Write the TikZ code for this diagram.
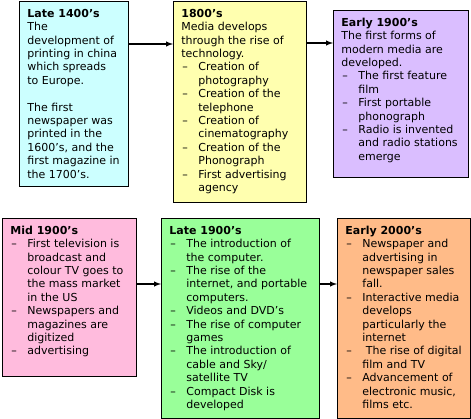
\documentclass[tikz,border=0pt]{standalone}
\usepackage{fontspec}
\setmainfont{DejaVu Sans}
\usepackage{tikz}
\usetikzlibrary{arrows, positioning, calc}
\definecolor{eracyan}{RGB}{204, 255, 255}
\definecolor{erayellow}{RGB}{255, 255, 175}
\definecolor{eraviolet}{RGB}{218, 190, 255}
\definecolor{erapink}{RGB}{255, 187, 221}
\definecolor{eragreen}{RGB}{153, 255, 153}
\definecolor{eraorange}{RGB}{255, 187, 136}

% text block of one box: height, width, content
\newcommand{\eratext}[3]{\begin{minipage}[t][#1][t]{#2}\fontsize{11}{13.4}\selectfont\raggedright\let\\\newline\leftskip=4pt #3\end{minipage}}
\newcommand{\eratitle}[1]{\textbf{\rule{0pt}{16pt}#1}\par}
\newcommand{\dashitem}{\par\hangindent=17pt\hangafter=1\makebox[17pt][l]{\hspace{1pt}–}}

\begin{document}
\begin{tikzpicture}[x=1pt, y=-1pt,
    erabox/.style={draw, line width=0.8pt, anchor=north west, inner xsep=4pt, inner ysep=0pt},
    arr/.style={-latex, line width=1.4pt}]
    \useasboundingbox (0,0) rectangle (471,419);

    % top row
    \node[erabox, fill=eracyan] (late1400) at (19,1) {\eratext{185pt}{101pt}{%
        \eratitle{Late 1400’s}
        The\\
        development of\\
        printing in china\\
        which spreads\\
        to Europe.\par\vspace{13.4pt}
        The first\\
        newspaper was\\
        printed in the\\
        1600’s, and the\\
        first magazine in\\
        the 1700’s.}};
    \node[erabox, fill=erayellow] (c1800) at (173,1) {\eratext{201pt}{125pt}{%
        \eratitle{1800’s}
        Media develops\\
        through the rise of\\
        technology.
        \dashitem Creation of\\photography
        \dashitem Creation of the\\telephone
        \dashitem Creation of\\cinematography
        \dashitem Creation of the\\Phonograph
        \dashitem First advertising\\agency}};
    \node[erabox, fill=eraviolet] (early1900) at (333,10) {\eratext{167pt}{127pt}{%
        \eratitle{Early 1900’s}
        The first forms of\\
        modern media are\\
        developed.
        \dashitem The first feature\\film
        \dashitem First portable\\phonograph
        \dashitem Radio is invented\\and radio stations\\emerge}};

    % bottom row
    \node[erabox, fill=erapink] (mid1900) at (2,218) {\eratext{158pt}{126pt}{%
        \eratitle{Mid 1900’s}
        \dashitem First television is\\broadcast and\\colour TV goes to\\the mass market\\in the US
        \dashitem Newspapers and\\magazines are\\digitized
        \dashitem advertising}};
    \node[erabox, fill=eragreen] (late1900) at (161,218) {\eratext{200pt}{150pt}{%
        \eratitle{Late 1900’s}
        \dashitem The introduction of\\the computer.
        \dashitem The rise of the\\internet, and portable\\computers.
        \dashitem Videos and DVD’s
        \dashitem The rise of computer\\games
        \dashitem The introduction of\\cable and Sky/\\satellite TV
        \dashitem Compact Disk is\\developed}};
    \node[erabox, fill=eraorange] (early2000) at (337,218) {\eratext{200pt}{125pt}{%
        \eratitle{Early 2000’s}
        \dashitem Newspaper and\\advertising in\\newspaper sales\\fall.
        \dashitem Interactive media\\develops\\particularly the\\internet
        \dashitem\hspace{3.5pt}The rise of digital\\film and TV
        \dashitem Advancement of\\electronic music,\\films etc.}};

    % connectors
    \coordinate (a1) at ([yshift=-43pt]late1400.north east);
    \coordinate (a2) at ([yshift=-42pt]c1800.north east);
    \coordinate (a3) at ([yshift=-66pt]mid1900.north east);
    \coordinate (a4) at ([yshift=-66pt]late1900.north east);
    \draw[arr] (a1) -- (a1 -| c1800.west);
    \draw[arr] (a2) -- (a2 -| early1900.west);
    \draw[arr] (a3) -- (a3 -| late1900.west);
    \draw[arr] (a4) -- (a4 -| early2000.west);
\end{tikzpicture}
\end{document}
